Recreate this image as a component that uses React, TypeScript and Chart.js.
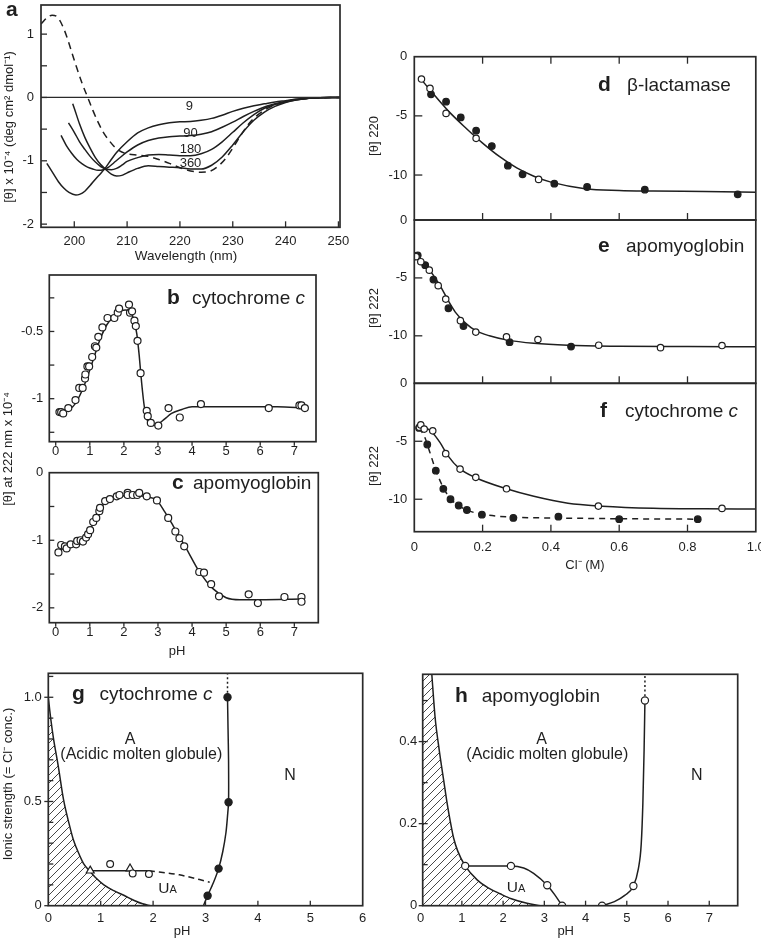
import React, { useEffect, useRef } from "react";
import { Chart, registerables } from "chart.js";
Chart.register(...registerables);

const W = 761;
const H = 940;
const FONT = "'Liberation Sans', Arial, Helvetica, sans-serif";
const INK = "#1f1f1f";
const FRAME = "#2a2a2a";

// ---------------- Panel a: CD spectra ----------------
const aDashedWl = [193.7, 195, 195.8, 196.8, 197.5, 198.5, 199.5, 200.5, 201.5, 202.5, 203.5, 204.5, 205.5, 206.5, 207.5, 208.5, 210, 212, 214, 216, 218, 220, 222, 224, 225.5, 227, 228.5, 230, 231.5, 233, 234.5, 236, 238, 240, 242, 245, 250.3];
const aDashedTheta = [1.16, 1.27, 1.3, 1.27, 1.18, 0.98, 0.72, 0.46, 0.22, 0.01, -0.2, -0.39, -0.55, -0.67, -0.77, -0.84, -0.89, -0.91, -0.93, -0.98, -1.04, -1.11, -1.16, -1.18, -1.17, -1.1, -0.98, -0.8, -0.6, -0.42, -0.29, -0.2, -0.12, -0.07, -0.04, -0.01, 0];
const a9Wl = [194.8, 196, 197, 198, 199, 200.3, 201, 202, 203, 204, 205, 206, 207, 208, 210, 212, 214, 216, 218, 220, 222, 224, 226, 228, 230, 232, 234, 236, 238, 240, 242, 245, 250.3];
const a9Theta = [-1.04, -1.2, -1.33, -1.43, -1.5, -1.54, -1.53, -1.48, -1.39, -1.29, -1.2, -1.1, -0.98, -0.87, -0.7, -0.56, -0.48, -0.43, -0.4, -0.385, -0.38, -0.36, -0.33, -0.28, -0.22, -0.17, -0.13, -0.1, -0.07, -0.05, -0.03, -0.01, 0];
const a90Wl = [197.5, 198.5, 199.5, 200.5, 201.5, 202.5, 203.5, 204.5, 205.5, 206.5, 207.5, 208.5, 210, 212, 214, 216, 218, 220, 222, 224, 226, 228, 230, 232, 234, 236, 238, 240, 242, 245, 250.3];
const a90Theta = [-0.6, -0.76, -0.88, -0.98, -1.05, -1.1, -1.13, -1.15, -1.14, -1.1, -1.03, -0.96, -0.86, -0.75, -0.68, -0.64, -0.62, -0.61, -0.6, -0.58, -0.54, -0.47, -0.39, -0.3, -0.22, -0.15, -0.1, -0.06, -0.03, -0.01, 0];
const a180Wl = [198.9, 200, 201, 202, 203, 204, 205, 206, 207, 208, 209, 210, 212, 214, 216, 218, 220, 222, 224, 226, 228, 230, 232, 234, 236, 238, 240, 242, 245, 250.3];
const a180Theta = [-0.4, -0.55, -0.7, -0.82, -0.93, -1.02, -1.09, -1.13, -1.14, -1.12, -1.07, -1.01, -0.95, -0.91, -0.9, -0.91, -0.92, -0.92, -0.89, -0.82, -0.7, -0.55, -0.4, -0.27, -0.17, -0.11, -0.07, -0.04, -0.01, 0];
const a360Wl = [199.7, 200, 201, 202, 203, 204, 205, 206, 207, 208, 209, 210, 212, 214, 216, 218, 220, 222, 224, 226, 228, 230, 232, 234, 236, 238, 240, 242, 245, 250.3];
const a360Theta = [-0.1, -0.17, -0.42, -0.63, -0.8, -0.95, -1.06, -1.14, -1.21, -1.24, -1.23, -1.19, -1.12, -1.08, -1.09, -1.1, -1.11, -1.13, -1.13, -1.07, -0.94, -0.75, -0.54, -0.36, -0.23, -0.14, -0.08, -0.04, -0.01, 0];
const aCurveLabels = ["9", "90", "180", "360"];
const aLabelWl = [221.8, 222, 222, 222];
const aLabelTheta = [-0.19, -0.63, -0.88, -1.1];
const aXTicks = [200, 210, 220, 230, 240, 250];
const aYTicks = [-2, -1.5, -1, -0.5, 0, 0.5, 1];
const aYLabels = ["-2", "", "-1", "", "0", "", "1"];

// ---------------- Panel b: cytochrome c vs pH ----------------
const bPH = [0.11, 0.16, 0.22, 0.37, 0.58, 0.69, 0.79, 0.86, 0.87, 0.93, 0.98, 1.07, 1.15, 1.19, 1.25, 1.37, 1.52, 1.72, 1.82, 1.86, 2.15, 2.18, 2.24, 2.31, 2.35, 2.4, 2.49, 2.67, 2.7, 2.79, 3.01, 3.31, 3.64, 4.26, 6.25, 7.15, 7.21, 7.31];
const bTheta = [-1.1, -1.1, -1.11, -1.07, -1.01, -0.92, -0.92, -0.85, -0.82, -0.76, -0.76, -0.69, -0.61, -0.62, -0.54, -0.47, -0.4, -0.4, -0.36, -0.33, -0.3, -0.36, -0.35, -0.42, -0.46, -0.57, -0.81, -1.09, -1.13, -1.18, -1.2, -1.07, -1.14, -1.04, -1.07, -1.05, -1.05, -1.07];
const bFitPH = [0.1, 0.3, 0.5, 0.7, 0.9, 1.1, 1.3, 1.5, 1.7, 1.9, 2.05, 2.2, 2.3, 2.38, 2.45, 2.52, 2.6, 2.7, 2.85, 3.0, 3.2, 3.4, 3.7, 4.0, 4.5, 5.5, 6.5, 7.3];
const bFitTheta = [-1.1, -1.08, -1.06, -0.98, -0.86, -0.71, -0.56, -0.45, -0.39, -0.35, -0.34, -0.36, -0.42, -0.52, -0.68, -0.88, -1.06, -1.17, -1.2, -1.19, -1.15, -1.11, -1.08, -1.06, -1.06, -1.06, -1.06, -1.07];
const pHTicks8 = [0, 1, 2, 3, 4, 5, 6, 7];
const pHLabels8 = ["0", "1", "2", "3", "4", "5", "6", "7"];
const bYTicks = [-1.25, -1, -0.75, -0.5, -0.25];
const bYLabels = ["", "-1", "", "-0.5", ""];

// ---------------- Panel c: apomyoglobin vs pH ----------------
const cPH = [0.08, 0.16, 0.27, 0.32, 0.44, 0.6, 0.63, 0.73, 0.8, 0.89, 0.95, 1.01, 1.1, 1.19, 1.28, 1.3, 1.45, 1.59, 1.79, 1.87, 2.11, 2.11, 2.26, 2.39, 2.45, 2.67, 2.97, 3.3, 3.51, 3.63, 3.77, 4.21, 4.35, 4.56, 4.79, 5.66, 5.93, 6.71, 7.21, 7.21];
const cTheta = [-1.18, -1.07, -1.09, -1.12, -1.06, -1.06, -1.01, -1.0, -1.02, -0.96, -0.91, -0.85, -0.73, -0.67, -0.57, -0.52, -0.42, -0.39, -0.35, -0.33, -0.3, -0.33, -0.33, -0.33, -0.3, -0.35, -0.41, -0.67, -0.87, -0.97, -1.09, -1.47, -1.48, -1.65, -1.83, -1.8, -1.93, -1.84, -1.84, -1.91];
const cFitPH = [0.05, 0.3, 0.6, 0.8, 1.0, 1.15, 1.3, 1.45, 1.6, 1.8, 2.0, 2.4, 2.7, 2.95, 3.2, 3.45, 3.84, 4.23, 4.62, 5.0, 5.4, 6.0, 7.2];
const cFitTheta = [-1.17, -1.1, -1.05, -1.0, -0.85, -0.69, -0.54, -0.44, -0.39, -0.35, -0.34, -0.34, -0.36, -0.4, -0.58, -0.79, -1.13, -1.48, -1.72, -1.85, -1.88, -1.88, -1.87];
const cYTicks = [-2, -1.5, -1, -0.5, 0];
const cYLabels = ["-2", "", "-1", "", "0"];

// ---------------- Panels d, e, f: vs Cl- ----------------
const clTicks = [0, 0.2, 0.4, 0.6, 0.8, 1.0];
const clLabels = ["0", "0.2", "0.4", "0.6", "0.8", "1.0"];
const defYTicks = [-10, -5, 0];
const defYLabels = ["-10", "-5", "0"];

const dOpenCl = [0.021, 0.046, 0.093, 0.181, 0.364];
const dOpenTheta = [-1.89, -2.68, -4.79, -6.9, -10.37];
const dFilledCl = [0.049, 0.093, 0.136, 0.181, 0.227, 0.274, 0.317, 0.41, 0.506, 0.675, 0.947];
const dFilledTheta = [-3.18, -3.8, -5.13, -6.25, -7.55, -9.21, -9.94, -10.73, -11.01, -11.24, -11.63];
const dFitCl = [0.02, 0.05, 0.1, 0.15, 0.2, 0.25, 0.3, 0.35, 0.4, 0.5, 0.6, 0.7, 0.85, 1.0];
const dFitTheta = [-1.9, -2.95, -4.6, -6.0, -7.3, -8.45, -9.4, -10.1, -10.6, -11.15, -11.3, -11.35, -11.4, -11.46];

const eOpenCl = [0.005, 0.019, 0.044, 0.07, 0.092, 0.135, 0.18, 0.27, 0.362, 0.54, 0.721, 0.901];
const eOpenTheta = [-3.17, -3.6, -4.33, -5.67, -6.83, -8.69, -9.68, -10.09, -10.32, -10.81, -11.02, -10.84];
const eFilledCl = [0.01, 0.032, 0.056, 0.1, 0.144, 0.279, 0.459];
const eFilledTheta = [-3.05, -3.9, -5.14, -7.62, -9.16, -10.55, -10.93];
const eFitCl = [0.005, 0.03, 0.06, 0.08, 0.1, 0.12, 0.15, 0.18, 0.22, 0.27, 0.35, 0.45, 0.6, 0.8, 1.0];
const eFitTheta = [-3.1, -3.75, -4.95, -5.9, -7.0, -7.95, -8.9, -9.55, -10.0, -10.35, -10.65, -10.82, -10.9, -10.93, -10.95];

const fOpenCl = [0.015, 0.019, 0.029, 0.054, 0.092, 0.134, 0.18, 0.27, 0.539, 0.901];
const fOpenTheta = [-3.79, -3.59, -3.95, -4.1, -6.07, -7.4, -8.11, -9.1, -10.59, -10.79];
const fFilledCl = [0.014, 0.038, 0.063, 0.085, 0.106, 0.13, 0.154, 0.198, 0.29, 0.422, 0.6, 0.83];
const fFilledTheta = [-3.85, -5.28, -7.54, -9.1, -10.0, -10.54, -10.93, -11.33, -11.61, -11.5, -11.72, -11.72];
const fFitOpenCl = [0.015, 0.035, 0.055, 0.075, 0.1, 0.13, 0.18, 0.27, 0.35, 0.45, 0.55, 0.7, 0.85, 1.0];
const fFitOpenTheta = [-3.6, -3.85, -4.3, -5.1, -6.3, -7.3, -8.15, -9.1, -9.75, -10.35, -10.6, -10.78, -10.83, -10.85];
const fFitFilledCl = [0.014, 0.03, 0.045, 0.063, 0.085, 0.106, 0.13, 0.16, 0.2, 0.29, 0.42, 0.6, 0.83];
const fFitFilledTheta = [-3.85, -4.6, -5.9, -7.5, -9.0, -9.95, -10.55, -11.0, -11.3, -11.55, -11.62, -11.68, -11.72];

// ---------------- Panel g: phase diagram, cytochrome c ----------------
const gHatchPH = [0, 0.05, 0.1, 0.19, 0.29, 0.4, 0.48, 0.6, 0.67, 0.8, 0.9, 1.06, 1.25, 1.44, 1.65, 1.8, 1.95];
const gHatchI = [1.0, 0.89, 0.8, 0.67, 0.51, 0.39, 0.315, 0.24, 0.203, 0.163, 0.135, 0.1, 0.072, 0.05, 0.024, 0.009, 0];
const gUaLinePH = [0.8, 1.92];
const gUaLineI = [0.168, 0.168];
const gUaDashPH = [1.92, 2.5, 3.08];
const gUaDashI = [0.168, 0.148, 0.113];
const gTriPH = [0.8, 1.56];
const gTriI = [0.168, 0.178];
const gCirclePH = [1.18, 1.61, 1.92];
const gCircleI = [0.2, 0.155, 0.152];
const gBoundPH = [2.96, 3.04, 3.15, 3.25, 3.33, 3.39, 3.42, 3.44, 3.44, 3.43, 3.42];
const gBoundI = [0, 0.048, 0.11, 0.178, 0.26, 0.35, 0.43, 0.5, 0.7, 0.85, 1.0];
const gFilledPH = [3.04, 3.25, 3.44, 3.42];
const gFilledI = [0.048, 0.178, 0.496, 1.0];
const gDotPH = [3.42, 3.42];
const gDotI = [1.0, 1.12];
const gXTicks = [0, 1, 2, 3, 4, 5, 6];
const gXLabels = ["0", "1", "2", "3", "4", "5", "6"];
const gYTicks = [0, 0.1, 0.2, 0.3, 0.4, 0.5, 0.6, 0.7, 0.8, 0.9, 1.0, 1.1];
const gYLabels = ["0", "", "", "", "", "0.5", "", "", "", "", "1.0", ""];

// ---------------- Panel h: phase diagram, apomyoglobin ----------------
const hHatchPH = [0.27, 0.35, 0.45, 0.56, 0.65, 0.72, 0.8, 0.9, 1.08, 1.37, 1.65, 1.93, 2.2, 2.58, 2.9];
const hHatchI = [0.565, 0.46, 0.38, 0.305, 0.245, 0.205, 0.165, 0.133, 0.097, 0.063, 0.043, 0.029, 0.017, 0.006, 0];
const hUaPH = [1.08, 1.6, 2.19, 2.5, 2.74, 3.07, 3.25, 3.43];
const hUaI = [0.097, 0.097, 0.097, 0.092, 0.079, 0.05, 0.027, 0];
const hUaCirclePH = [1.08, 2.19, 3.07, 3.43];
const hUaCircleI = [0.097, 0.097, 0.05, 0];
const hBoundPH = [4.4, 4.7, 4.95, 5.16, 5.28, 5.35, 5.39, 5.42, 5.44];
const hBoundI = [0, 0.01, 0.025, 0.048, 0.09, 0.15, 0.25, 0.38, 0.5];
const hBoundCirclePH = [4.4, 5.16, 5.44];
const hBoundCircleI = [0, 0.048, 0.5];
const hDotPH = [5.44, 5.44];
const hDotI = [0.5, 0.57];
const hYTicks = [0, 0.1, 0.2, 0.3, 0.4, 0.5];
const hYLabels = ["0", "", "0.2", "", "0.4", ""];

// ---------------- helpers ----------------
const pts = (xs: number[], ys: number[]) => xs.map((x, i) => ({ x, y: ys[i] }));
const fnt = (size: number, style = "") => `${style} ${size}px ${FONT}`.trim();
type Part = { text: string; font: string };
const T = (text: string, size = 13, style = ""): Part => ({ text, font: fnt(size, style) });
type Note = { parts: Part[]; px?: [number, number]; data?: [number, number]; align?: "left" | "center"; rotate?: boolean };
type Axis = {
  min: number; max: number; ticks: number[]; labels: string[];
  show: boolean; dir: "in" | "out"; len: number; pad: number; top?: boolean; labeledOut?: boolean;
};
type Rect = { l: number; t: number; r: number; b: number };
type Spec = { rect: Rect; x: Axis; y: Axis; datasets: any[]; notes: Note[]; zeroLine?: boolean; hatch?: number };

const lineDs = (data: any[], extra: any = {}) => ({
  data, borderColor: INK, borderWidth: 1.5, pointRadius: 0, fill: false,
  cubicInterpolationMode: "monotone", ...extra,
});
const openDs = (data: any[], r = 3.5, extra: any = {}) => ({
  data, showLine: false, pointRadius: r, pointBackgroundColor: "#ffffff",
  pointBorderColor: INK, pointBorderWidth: 1.2, pointStyle: "circle", ...extra,
});
const filledDs = (data: any[], r = 3.5) => openDs(data, r, { pointBackgroundColor: INK });

function scaleOpts(ax: Axis, isX: boolean, size: number) {
  return {
    type: "linear",
    min: ax.min,
    max: ax.max,
    grid: { display: false, drawTicks: false, tickLength: 0 },
    border: { display: false },
    afterBuildTicks: (s: any) => {
      s.ticks = ax.ticks.map((v) => ({ value: v }));
    },
    afterFit: (s: any) => {
      if (isX) s.height = size;
      else s.width = size;
      s.paddingLeft = 0; s.paddingRight = 0; s.paddingTop = 0; s.paddingBottom = 0;
    },
    ticks: {
      display: ax.show,
      autoSkip: false,
      maxRotation: 0,
      minRotation: 0,
      padding: ax.pad,
      color: INK,
      font: { family: FONT, size: 13 },
      callback: (v: number) => {
        const i = ax.ticks.indexOf(v);
        return i >= 0 ? ax.labels[i] : "";
      },
    },
    title: { display: false },
  };
}

function makeHatch(ctx: CanvasRenderingContext2D) {
  const c = document.createElement("canvas");
  c.width = 8; c.height = 8;
  const g = c.getContext("2d")!;
  g.strokeStyle = "#333";
  g.lineWidth = 0.9;
  g.beginPath();
  g.moveTo(0, 8); g.lineTo(8, 0);
  g.moveTo(-2, 2); g.lineTo(2, -2);
  g.moveTo(6, 10); g.lineTo(10, 6);
  g.stroke();
  return ctx.createPattern(c, "repeat")!;
}

function hatchPlugin(spec: Spec) {
  return {
    id: "hatch",
    beforeDatasetsDraw(chart: any) {
      if (spec.hatch === undefined) return;
      const meta = chart.getDatasetMeta(spec.hatch);
      const line = meta.dataset;
      const ca = chart.chartArea;
      const ctx: CanvasRenderingContext2D = chart.ctx;
      const points = meta.data;
      if (!points.length) return;
      ctx.save();
      ctx.beginPath();
      ctx.rect(ca.left, ca.top, ca.right - ca.left, ca.bottom - ca.top);
      ctx.clip();
      ctx.beginPath();
      if (line && typeof line.path === "function") {
        if (typeof line.updateControlPoints === "function") line.updateControlPoints(ca, "x");
        line.path(ctx);
      } else {
        points.forEach((p: any, i: number) => (i ? ctx.lineTo(p.x, p.y) : ctx.moveTo(p.x, p.y)));
      }
      ctx.lineTo(ca.left, ca.bottom);
      ctx.lineTo(ca.left, Math.max(ca.top, points[0].y));
      ctx.closePath();
      ctx.fillStyle = makeHatch(ctx);
      ctx.fill();
      ctx.restore();
    },
  };
}

function framePlugin(spec: Spec) {
  return {
    id: "frame",
    afterDatasetsDraw(chart: any) {
      const ctx: CanvasRenderingContext2D = chart.ctx;
      const ca = chart.chartArea;
      const sx = chart.scales.x;
      const sy = chart.scales.y;
      const seg = (x1: number, y1: number, x2: number, y2: number) => {
        ctx.beginPath(); ctx.moveTo(x1, y1); ctx.lineTo(x2, y2); ctx.stroke();
      };
      ctx.save();
      ctx.strokeStyle = FRAME;
      ctx.lineWidth = 1.3;
      if (spec.zeroLine) {
        const y0 = sy.getPixelForValue(0);
        seg(ca.left, y0, ca.right, y0);
      }
      for (const v of spec.x.ticks) {
        const px = sx.getPixelForValue(v);
        if (px <= ca.left + 1.5 || px >= ca.right - 1.5) continue;
        if (spec.x.dir === "in") seg(px, ca.bottom, px, ca.bottom - spec.x.len);
        else seg(px, ca.bottom, px, ca.bottom + spec.x.len);
        if (spec.x.top) seg(px, ca.top, px, ca.top + spec.x.len);
      }
      spec.y.ticks.forEach((v, i) => {
        const py = sy.getPixelForValue(v);
        if (spec.y.labeledOut && spec.y.labels[i]) seg(ca.left - 4, py, ca.left, py);
        if (py <= ca.top + 1.5 || py >= ca.bottom - 1.5) return;
        if (spec.y.dir === "in") seg(ca.left, py, ca.left + spec.y.len, py);
        else seg(ca.left - spec.y.len, py, ca.left, py);
      });
      ctx.lineWidth = 1.7;
      ctx.strokeRect(ca.left, ca.top, ca.right - ca.left, ca.bottom - ca.top);
      ctx.restore();
    },
  };
}

function notesPlugin(notes: Note[]) {
  return {
    id: "notes",
    afterDraw(chart: any) {
      const ctx: CanvasRenderingContext2D = chart.ctx;
      ctx.save();
      ctx.fillStyle = INK;
      for (const n of notes) {
        let x = 0, y = 0;
        if (n.data) {
          x = chart.scales.x.getPixelForValue(n.data[0]);
          y = chart.scales.y.getPixelForValue(n.data[1]);
        } else if (n.px) {
          x = n.px[0]; y = n.px[1];
        }
        const widths = n.parts.map((p) => { ctx.font = p.font; return ctx.measureText(p.text).width; });
        const total = widths.reduce((a, b) => a + b, 0);
        ctx.save();
        ctx.translate(x, y);
        if (n.rotate) ctx.rotate(-Math.PI / 2);
        ctx.textBaseline = n.rotate ? "middle" : "alphabetic";
        ctx.textAlign = "left";
        let cx = n.align === "center" ? -total / 2 : 0;
        n.parts.forEach((p, i) => { ctx.font = p.font; ctx.fillText(p.text, cx, 0); cx += widths[i]; });
        ctx.restore();
      }
      ctx.restore();
    },
  };
}

const YW = 40;
const XH = 30;

function makeConfig(spec: Spec) {
  const r = spec.rect;
  return {
    type: "line",
    data: { datasets: spec.datasets },
    options: {
      responsive: false,
      maintainAspectRatio: false,
      animation: false,
      events: [],
      layout: { padding: { left: r.l - YW, top: r.t, right: W - r.r, bottom: H - r.b - XH } },
      plugins: { legend: { display: false }, tooltip: { enabled: false }, title: { display: false } },
      scales: { x: scaleOpts(spec.x, true, XH), y: scaleOpts(spec.y, false, YW) },
    },
    plugins: [hatchPlugin(spec), framePlugin(spec), notesPlugin(spec.notes)],
  };
}

// ---------------- panel specs ----------------
const panelA: Spec = {
  rect: { l: 41, t: 5, r: 340, b: 227.3 },
  x: { min: 193.7, max: 250.3, ticks: aXTicks, labels: aXTicks.map(String), show: true, dir: "in", len: 6, pad: 6.2 },
  y: { min: -2.05, max: 1.46, ticks: aYTicks, labels: aYLabels, show: true, dir: "in", len: 6, pad: 7 },
  zeroLine: true,
  datasets: [
    lineDs(pts(aDashedWl, aDashedTheta), { borderDash: [7, 5] }),
    lineDs(pts(a9Wl, a9Theta)),
    lineDs(pts(a90Wl, a90Theta)),
    lineDs(pts(a180Wl, a180Theta)),
    lineDs(pts(a360Wl, a360Theta)),
  ],
  notes: [
    { parts: [T("a", 21, "bold")], px: [6, 15.5] },
    ...aCurveLabels.map((t, i) => ({ parts: [T(t, 13)], data: [aLabelWl[i], aLabelTheta[i]] as [number, number], align: "center" as const })),
    { parts: [T("[θ] x 10⁻⁴ (deg cm² dmol⁻¹)", 13)], px: [9, 127], rotate: true, align: "center" },
    { parts: [T("Wavelength (nm)", 13.5)], px: [186, 260], align: "center" },
  ],
};

const panelB: Spec = {
  rect: { l: 49.3, t: 275, r: 316, b: 441.7 },
  x: { min: -0.188, max: 7.636, ticks: pHTicks8, labels: pHLabels8, show: true, dir: "out", len: 4, pad: 2 },
  y: { min: -1.32, max: -0.08, ticks: bYTicks, labels: bYLabels, show: true, dir: "in", len: 5, pad: 6 },
  datasets: [openDs(pts(bPH, bTheta)), lineDs(pts(bFitPH, bFitTheta))],
  notes: [
    { parts: [T("b", 21, "bold")], px: [167, 303.5] },
    { parts: [T("cytochrome ", 19), T("c", 19, "italic")], px: [192, 303.5] },
  ],
};

const panelC: Spec = {
  rect: { l: 49.3, t: 472.7, r: 318.3, b: 622.7 },
  x: { min: -0.188, max: 7.703, ticks: pHTicks8, labels: pHLabels8, show: true, dir: "out", len: 4, pad: 1.8 },
  y: { min: -2.22, max: 0, ticks: cYTicks, labels: cYLabels, show: true, dir: "in", len: 5, pad: 6 },
  datasets: [openDs(pts(cPH, cTheta)), lineDs(pts(cFitPH, cFitTheta))],
  notes: [
    { parts: [T("c", 21, "bold")], px: [172, 489] },
    { parts: [T("apomyoglobin", 19)], px: [193, 489] },
    { parts: [T("pH", 13)], px: [177, 655], align: "center" },
    { parts: [T("[θ] at 222 nm x 10⁻⁴", 13)], px: [8, 449], rotate: true, align: "center" },
  ],
};

const clAxis = (show: boolean, top: boolean): Axis => ({
  min: 0, max: 1, ticks: clTicks, labels: clLabels, show, dir: "in", len: 7, pad: 7.6, top,
});

const panelD: Spec = {
  rect: { l: 414.3, t: 56.7, r: 756, b: 220 },
  x: clAxis(false, true),
  y: { min: -13.8, max: 0, ticks: defYTicks, labels: defYLabels, show: true, dir: "in", len: 8, pad: 7 },
  datasets: [openDs(pts(dOpenCl, dOpenTheta), 3.2), filledDs(pts(dFilledCl, dFilledTheta), 3.3), lineDs(pts(dFitCl, dFitTheta))],
  notes: [
    { parts: [T("d", 21, "bold")], px: [598, 90.7] },
    { parts: [T("β-lactamase", 19)], px: [627, 90.7] },
    { parts: [T("[θ] 220", 13)], px: [374, 136], rotate: true, align: "center" },
  ],
};

const panelE: Spec = {
  rect: { l: 414.3, t: 220, r: 756, b: 383.3 },
  x: clAxis(false, false),
  y: { min: -14.1, max: 0, ticks: defYTicks, labels: defYLabels, show: true, dir: "in", len: 8, pad: 7 },
  datasets: [openDs(pts(eOpenCl, eOpenTheta), 3.2), filledDs(pts(eFilledCl, eFilledTheta), 3.3), lineDs(pts(eFitCl, eFitTheta))],
  notes: [
    { parts: [T("e", 21, "bold")], px: [598, 252.3] },
    { parts: [T("apomyoglobin", 19)], px: [626, 252.3] },
    { parts: [T("[θ] 222", 13)], px: [374, 308], rotate: true, align: "center" },
  ],
};

const panelF: Spec = {
  rect: { l: 414.3, t: 383.3, r: 756, b: 531.7 },
  x: clAxis(true, false),
  y: { min: -12.8, max: 0, ticks: defYTicks, labels: defYLabels, show: true, dir: "in", len: 8, pad: 7 },
  datasets: [
    openDs(pts(fOpenCl, fOpenTheta), 3.2),
    filledDs(pts(fFilledCl, fFilledTheta), 3.3),
    lineDs(pts(fFitOpenCl, fFitOpenTheta)),
    lineDs(pts(fFitFilledCl, fFitFilledTheta), { borderDash: [6, 5] }),
  ],
  notes: [
    { parts: [T("f", 21, "bold")], px: [600, 416.7] },
    { parts: [T("cytochrome ", 19), T("c", 19, "italic")], px: [625, 416.7] },
    { parts: [T("[θ] 222", 13)], px: [374, 466], rotate: true, align: "center" },
    { parts: [T("Cl⁻ (M)", 13)], px: [585, 568.5], align: "center" },
  ],
};

const panelG: Spec = {
  rect: { l: 48.3, t: 673.3, r: 362.7, b: 905.7 },
  x: { min: 0, max: 6, ticks: gXTicks, labels: gXLabels, show: true, dir: "in", len: 5, pad: 4.6 },
  y: { min: 0, max: 1.115, ticks: gYTicks, labels: gYLabels, show: true, dir: "in", len: 5, pad: 6.6, labeledOut: true },
  hatch: 3,
  datasets: [
    filledDs(pts(gFilledPH, gFilledI), 3.6),
    openDs(pts(gCirclePH, gCircleI), 3.4),
    openDs(pts(gTriPH, gTriI), 4.6, { pointStyle: "triangle" }),
    lineDs(pts(gHatchPH, gHatchI)),
    lineDs(pts(gUaLinePH, gUaLineI)),
    lineDs(pts(gUaDashPH, gUaDashI), { borderDash: [6, 4] }),
    lineDs(pts(gBoundPH, gBoundI), { cubicInterpolationMode: "default", tension: 0.3 }),
    lineDs(pts(gDotPH, gDotI), { borderDash: [2, 2.5] }),
  ],
  notes: [
    { parts: [T("g", 21, "bold")], px: [72, 700] },
    { parts: [T("cytochrome ", 19), T("c", 19, "italic")], px: [99.5, 700] },
    { parts: [T("A", 16)], px: [130, 744], align: "center" },
    { parts: [T("(Acidic molten globule)", 16)], px: [141.3, 759], align: "center" },
    { parts: [T("N", 16)], px: [290, 780], align: "center" },
    { parts: [T("U", 15.5), T("A", 11)], px: [158.3, 892.7] },
    { parts: [T("pH", 13)], px: [182, 935], align: "center" },
    { parts: [T("Ionic strength (= Cl⁻ conc.)", 13)], px: [8.5, 784], rotate: true, align: "center" },
  ],
};

const panelH: Spec = {
  rect: { l: 422.7, t: 674.3, r: 737.7, b: 905.7 },
  x: { min: 0.05, max: 7.69, ticks: pHTicks8, labels: pHLabels8, show: true, dir: "in", len: 5, pad: 4.6 },
  y: { min: 0, max: 0.564, ticks: hYTicks, labels: hYLabels, show: true, dir: "in", len: 5, pad: 5.4, labeledOut: true },
  hatch: 2,
  datasets: [
    openDs(pts(hUaCirclePH, hUaCircleI), 3.6),
    openDs(pts(hBoundCirclePH, hBoundCircleI), 3.6),
    lineDs(pts(hHatchPH, hHatchI)),
    lineDs(pts(hUaPH, hUaI)),
    lineDs(pts(hBoundPH, hBoundI)),
    lineDs(pts(hDotPH, hDotI), { borderDash: [2, 2.5] }),
  ],
  notes: [
    { parts: [T("h", 21, "bold")], px: [455, 701.7] },
    { parts: [T("apomyoglobin", 19)], px: [481.7, 701.7] },
    { parts: [T("A", 16)], px: [541.7, 744], align: "center" },
    { parts: [T("(Acidic molten globule)", 16)], px: [547.3, 759], align: "center" },
    { parts: [T("N", 16)], px: [696.7, 780], align: "center" },
    { parts: [T("U", 15.5), T("A", 11)], px: [506.7, 891.7] },
    { parts: [T("pH", 13)], px: [565.7, 935], align: "center" },
  ],
};

const PANELS: Spec[] = [panelA, panelB, panelC, panelD, panelE, panelF, panelG, panelH];

function Panel({ spec }: { spec: Spec }) {
  const ref = useRef<HTMLCanvasElement>(null);
  useEffect(() => {
    if (!ref.current) return;
    const chart = new Chart(ref.current, makeConfig(spec) as any);
    return () => chart.destroy();
  }, [spec]);
  return (
    <canvas
      ref={ref}
      width={W}
      height={H}
      style={{ position: "absolute", left: 0, top: 0, width: W, height: H }}
    />
  );
}

export default function App() {
  return (
    <div style={{ position: "fixed", left: 0, top: 0, width: W, height: H, background: "#ffffff", overflow: "hidden" }}>
      {PANELS.map((p, i) => (
        <Panel key={i} spec={p} />
      ))}
    </div>
  );
}
